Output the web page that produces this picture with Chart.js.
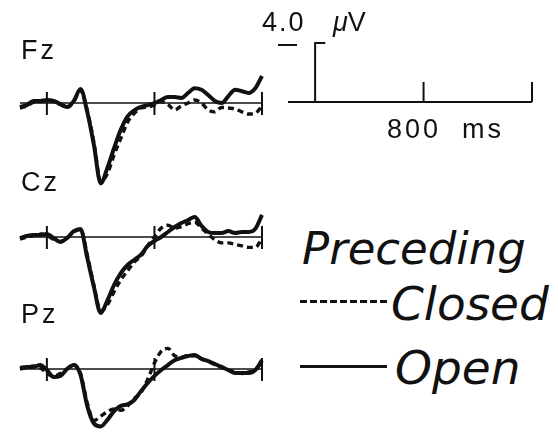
<!DOCTYPE html>
<html>
<head>
<meta charset="utf-8">
<script src="https://cdn.jsdelivr.net/npm/chart.js@4.4.1/dist/chart.umd.min.js"></script>
<style>
  body { margin: 0; background: #fff; width: 558px; height: 433px; overflow: hidden; position: relative; color: #111; font-family: 'Liberation Sans', Arial, sans-serif; }
  .box { position: absolute; }
  .lbl { position: absolute; line-height: 1; white-space: nowrap; }
  .site { font-size: 27px; letter-spacing: 3px; }
  .leg { font-family: 'DejaVu Sans', sans-serif; font-style: italic; font-size: 47px; }
</style>
</head>
<body>
<div class="box" id="box-fz"><canvas id="chart-fz"></canvas></div>
<div class="box" id="box-cz"><canvas id="chart-cz"></canvas></div>
<div class="box" id="box-pz"><canvas id="chart-pz"></canvas></div>
<div class="box" id="box-scale"><canvas id="chart-scale"></canvas></div>

<div class="lbl site" style="left:21px; top:37px">Fz</div>
<div class="lbl site" style="left:21px; top:169px">Cz</div>
<div class="lbl site" style="left:21px; top:301px">Pz</div>

<div class="lbl" style="left:262px; top:9px; font-size:27px; letter-spacing:2px">4.0</div>
<div class="lbl" style="left:333px; top:9px; font-size:27px"><i>μ</i>V</div>
<div class="box" style="left:278px; top:44px; width:19px; height:2px; background:#111"></div>
<div class="lbl" style="left:387px; top:116px; font-size:27px; letter-spacing:3px">800 &nbsp;ms</div>

<div class="lbl leg" style="left:302px; top:226px; font-size:45px">Preceding</div>
<div class="box" style="left:300px; top:300px; width:87px; height:3px; background:repeating-linear-gradient(90deg,#111 0 7px,transparent 7px 10px)"></div>
<div class="lbl leg" style="left:391px; top:280px">Closed</div>
<div class="box" style="left:300px; top:365px; width:87px; height:3px; background:#111"></div>
<div class="lbl leg" style="left:395px; top:344px">Open</div>

<script>
// time axis, ms (stimulus onset = 0)
const times = [-200, -150, -100, -50, 0, 50, 100, 150, 200, 250, 300, 350, 400, 450, 500, 550, 600, 650,
               700, 750, 800, 850, 900, 950, 1000, 1050, 1100, 1150, 1200, 1250, 1300, 1350, 1400, 1450, 1500, 1550, 1600];
const tickTimes = [0, 800, 1600];

// amplitudes in µV (positive plotted downward)
const fzOpen   = [0.27, 0.14, -0.14, -0.14, -0.2, -0.14, 0.07, 0.27, -0.14, -0.95, 0.6, 2.85, 5.45, 4.4, 3.05, 1.8, 0.9, 0.5, 0.27,
                  0.14, 0, -0.2, -0.4, -0.4, -0.34, -0.68, -1.0, -0.9, -0.54, -0.14, 0, -0.47, -0.9, -0.8, -0.68, -1.0, -1.83];
const fzClosed = [0.35, 0.2, -0.05, -0.1, -0.15, -0.1, 0.1, 0.3, -0.1, -0.85, 0.5, 2.7, 5.3, 4.8, 3.5, 2.4, 1.3, 0.7, 0.34,
                  0.27, 0.14, -0.1, 0.1, 0.47, 0.2, 0, -0.2, 0, 0.47, 0.6, 0.3, 0.34, 0.4, 0.6, 0.75, 0.7, 0.2];
const czOpen   = [0.07, -0.07, -0.14, -0.14, -0.2, 0.07, 0.34, 0.07, -0.4, -0.55, 1.4, 3.4, 5.15, 4.3, 3.25, 2.45, 1.9, 1.55, 1.2,
                  0.6, 0.27, 0, -0.34, -0.68, -0.95, -1.15, -1.35, -0.75, -0.34, -0.27, -0.27, -0.4, -0.27, -0.34, -0.34, -0.55, -1.5];
const czClosed = [0.15, 0, -0.1, -0.2, -0.1, 0.15, 0.3, 0.1, -0.35, -0.5, 1.2, 3.3, 5.0, 4.6, 3.7, 2.9, 2.3, 1.7, 1.3,
                  0.6, 0, -0.6, -0.8, -0.6, -0.7, -0.9, -1.0, -0.6, -0.2, 0.2, 0.4, 0.4, 0.5, 0.6, 0.7, 0.7, 0.1];
const pzOpen   = [-0.07, -0.14, -0.14, -0.27, 0.07, 0.54, 0.47, 0, -0.27, 0.4, 2.5, 3.7, 3.9, 3.45, 2.85, 2.5, 2.4, 2.1, 1.5,
                  0.95, 0.47, 0.07, -0.27, -0.6, -0.75, -0.88, -0.95, -0.68, -0.54, -0.34, -0.14, 0.07, 0.27, 0.27, 0.27, 0.07, -0.6];
const pzClosed = [0, -0.1, -0.2, -0.1, 0.3, 0.5, 0.3, 0, -0.3, 0.3, 2.3, 3.5, 3.2, 2.9, 2.7, 2.8, 2.5, 2.0, 1.6,
                  0.7, -0.4, -1.2, -1.4, -0.9, -0.8, -0.9, -0.9, -0.7, -0.5, -0.3, -0.1, 0.1, 0.2, 0.3, 0.2, 0.1, -0.5];

// calibration bar
const scaleBarUv = -4.0;
const scaleHookMs = 75;

const PX_PER_UV = 14.75;
const INK = '#111';

// baseline + time ticks, drawn through the chart's own scales
const erpAxis = {
    id: 'erpAxis',
    beforeDatasetsDraw(chart, args, opts) {
        if (!opts.on) return;
        const { ctx, scales: { x, y } } = chart;
        const y0 = y.getPixelForValue(0);
        ctx.save();
        ctx.strokeStyle = INK;
        ctx.lineWidth = opts.baseWidth;
        if (opts.baseWidth > 0) {
            ctx.beginPath();
            ctx.moveTo(x.getPixelForValue(times[0]), y0);
            ctx.lineTo(x.getPixelForValue(times[times.length - 1]), y0);
            ctx.stroke();
        }
        ctx.lineWidth = 2;
        opts.ticks.forEach(t => {
            const px = x.getPixelForValue(t);
            ctx.beginPath();
            ctx.moveTo(px, y0 - opts.up);
            ctx.lineTo(px, y0 + opts.down);
            ctx.stroke();
        });
        ctx.restore();
    }
};
Chart.register(erpAxis);

function place(boxId, left, top, width, height) {
    const b = document.getElementById(boxId);
    b.style.left = left + 'px'; b.style.top = top + 'px';
    b.style.width = width + 'px'; b.style.height = height + 'px';
}

function series(vals) { return times.map((t, i) => ({ x: t, y: vals[i] })); }

function makePanel(id, top, bottom, baseline, open, closed) {
    place('box-' + id, 0, top, 280, bottom - top);
    new Chart(document.getElementById('chart-' + id), {
        type: 'line',
        data: {
            datasets: [
                { data: series(closed), borderColor: INK, borderWidth: 3.4, borderDash: [6, 4], pointRadius: 0, cubicInterpolationMode: 'monotone', clip: false },
                { data: series(open), borderColor: INK, borderWidth: 4, pointRadius: 0, cubicInterpolationMode: 'monotone', clip: false }
            ]
        },
        options: {
            responsive: true, maintainAspectRatio: false, animation: false,
            layout: { padding: { left: 20, right: 18, top: 0, bottom: 0 } },
            plugins: { legend: { display: false }, tooltip: { enabled: false },
                       erpAxis: { on: true, ticks: tickTimes, up: 11, down: 12, baseWidth: 1.5 } },
            scales: {
                x: { type: 'linear', min: times[0], max: times[times.length - 1], display: false },
                y: { reverse: true, min: (top - baseline) / PX_PER_UV, max: (bottom - baseline) / PX_PER_UV, display: false }
            }
        }
    });
}

makePanel('fz', 60, 200, 103, fzOpen, fzClosed);
makePanel('cz', 200, 330, 237, czOpen, czClosed);
makePanel('pz', 330, 433, 369, pzOpen, pzClosed);

// calibration: time axis + voltage bar
(function () {
    const top = 30, bottom = 120, baseline = 102;
    place('box-scale', 270, top, 288, bottom - top);
    new Chart(document.getElementById('chart-scale'), {
        type: 'line',
        data: {
            datasets: [
                { data: [{ x: times[0], y: 0 }, { x: times[times.length - 1], y: 0 }], borderColor: INK, borderWidth: 2, pointRadius: 0, clip: false },
                { data: [{ x: 0, y: 0 }, { x: 0, y: scaleBarUv }, { x: scaleHookMs, y: scaleBarUv }], borderColor: INK, borderWidth: 2, pointRadius: 0, clip: false }
            ]
        },
        options: {
            responsive: true, maintainAspectRatio: false, animation: false,
            layout: { padding: { left: 18, right: 26, top: 0, bottom: 0 } },
            plugins: { legend: { display: false }, tooltip: { enabled: false },
                       erpAxis: { on: true, ticks: [800, 1600], up: 20, down: 0, baseWidth: 0 } },
            scales: {
                x: { type: 'linear', min: times[0], max: times[times.length - 1], display: false },
                y: { reverse: true, min: (top - baseline) / PX_PER_UV, max: (bottom - baseline) / PX_PER_UV, display: false }
            }
        }
    });
})();
</script>
</body>
</html>
